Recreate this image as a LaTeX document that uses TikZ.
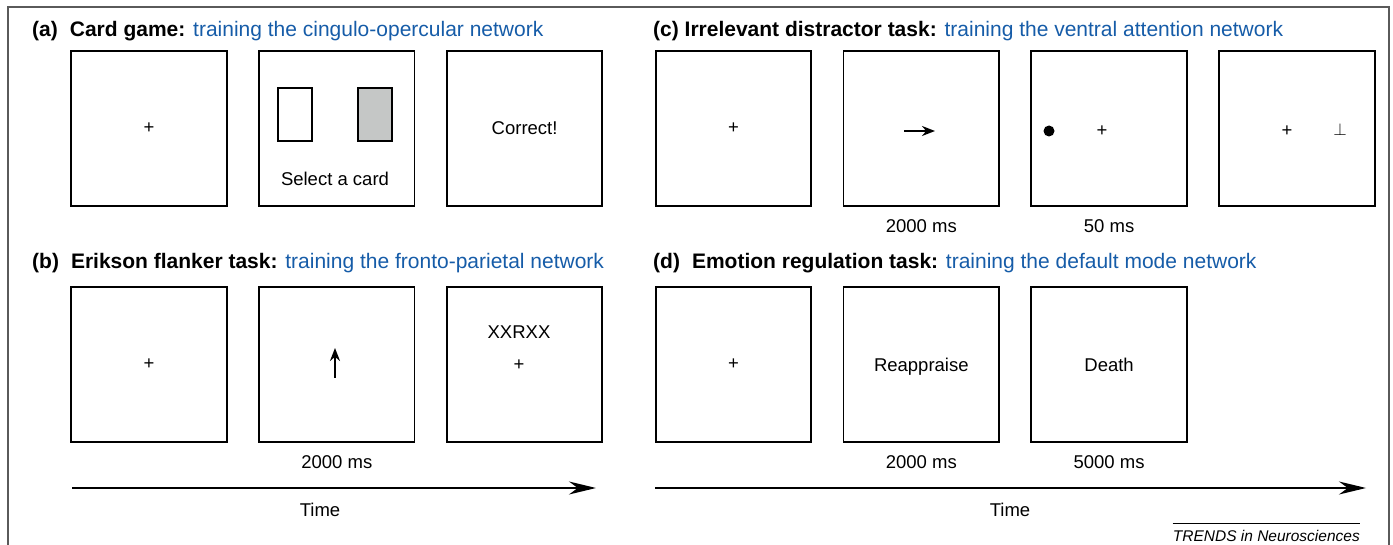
\documentclass[tikz,border=0pt]{standalone}
\usepackage{fontspec}
\setmainfont{Liberation Sans}
\usetikzlibrary{positioning, arrows.meta}
\definecolor{NetBlue}{RGB}{22,92,168}
\definecolor{CardGray}{RGB}{197,199,198}
\definecolor{FrameGray}{RGB}{90,90,90}
\tikzstyle{Screen} = [draw, line width=1.8pt, minimum width=155.5pt, minimum height=155pt,
inner sep=0pt, text depth=0pt, font=\fontsize{18.5}{22}\selectfont]
\tikzstyle{Card} = [draw, line width=1.5pt, minimum width=34pt, minimum height=53pt, inner sep=0pt]
\tikzstyle{Label} = [inner sep=0pt, font=\fontsize{18.5}{22}\selectfont]
\tikzstyle{Title} = [anchor=west, inner sep=0pt, font=\fontsize{21}{25}\selectfont]
\tikzstyle{TimeArrow} = [line width=1.5pt, -{Stealth[length=27pt, width=13pt]}]
\tikzstyle{Cue} = [line width=2.2pt, -{Stealth[length=13pt, width=10pt]}]
\newcommand{\net}[1]{\textcolor{NetBlue}{#1}}

\begin{document}
\begin{tikzpicture}[x=1pt, y=-1pt, node distance=30.5pt]
    \useasboundingbox (0,0) rectangle (1393,545);
    \draw[FrameGray, line width=1.5pt] (8,560) -- (8,7) -- (1389,7) -- (1389,560);

    \node[Title] (ta) at (32,31) {\textbf{(a)\hspace{12pt}Card game:} \net{training the cingulo-opercular network}};
    \node[Screen] (a1) at (149,128.5) {+};
    \node[Screen, right=of a1] (a2) {};
    \node[Screen, right=of a2] (a3) {Correct!};
    \node[Card] (cardW) at (295,114.5) {};
    \node[Card, fill=CardGray] (cardG) at (375,114.5) {};
    \node[Label] (select) at (335,179) {Select a card};

    \node[Title] (tb) at (32,263) {\textbf{(b)\hspace{12pt}Erikson flanker task:} \net{training the fronto-parietal network}};
    \node[Screen] (b1) at (149,364.5) {+};
    \node[Screen, right=of b1] (b2) {};
    \node[Screen, right=of b2] (b3) {};
    \coordinate (upS) at (335,378);
    \coordinate (upE) at (335,348);
    \draw[Cue] (upS) -- (upE);
    \node[Label] (flank) at (519,332) {XXRXX};
    \node[Label] (fixb) at (519,365) {+};
    \node[Label, below=12pt of b2] (durb2) {2000 ms};
    \coordinate (tl0) at (72,488);
    \coordinate (tl1) at (596,488);
    \draw[TimeArrow] (tl0) -- (tl1);
    \node[Label] (timeL) at (320,510) {Time};

    \node[Title] (tc) at (653,31) {\textbf{(c) Irrelevant distractor task:} \net{training the ventral attention network}};
    \node[Screen] (c1) at (733.5,128.5) {+};
    \node[Screen, right=of c1] (c2) {};
    \node[Screen, right=of c2] (c3) {};
    \node[Screen, right=of c3] (c4) {};
    \coordinate (cueS) at (904,131);
    \coordinate (cueE) at (935,131);
    \draw[Cue] (cueS) -- (cueE);
    \node[circle, fill, inner sep=0pt, minimum size=11pt] (dot) at (1049,131) {};
    \node[Label] (fixc3) at (1102,131) {+};
    \node[Label] (fixc4) at (1287,131) {+};
    \node[Label, font=\fontsize{19}{22}\selectfont] (probe) at (1340,130) {$\perp$};
    \node[Label, below=12pt of c2] (durc2) {2000 ms};
    \node[Label, below=12pt of c3] (durc3) {50 ms};

    \node[Title] (td) at (653,263) {\textbf{(d)\hspace{12pt}Emotion regulation task:} \net{training the default mode network}};
    \node[Screen] (d1) at (733.5,364.5) {+};
    \node[Screen, right=of d1] (d2) {Reappraise};
    \node[Screen, right=of d2] (d3) {Death};
    \node[Label, below=12pt of d2] (durd2) {2000 ms};
    \node[Label, below=12pt of d3] (durd3) {5000 ms};
    \coordinate (tr0) at (655,488);
    \coordinate (tr1) at (1366,488);
    \draw[TimeArrow] (tr0) -- (tr1);
    \node[Label] (timeR) at (1010,510) {Time};

    \node[inner sep=0pt, anchor=east, font=\fontsize{15.5}{18}\selectfont\itshape] (logo) at (1360,536) {TRENDS in Neurosciences};
    \draw[line width=0.8pt] ([yshift=7pt]logo.north west) -- ([yshift=7pt]logo.north east);
\end{tikzpicture}
\end{document}
